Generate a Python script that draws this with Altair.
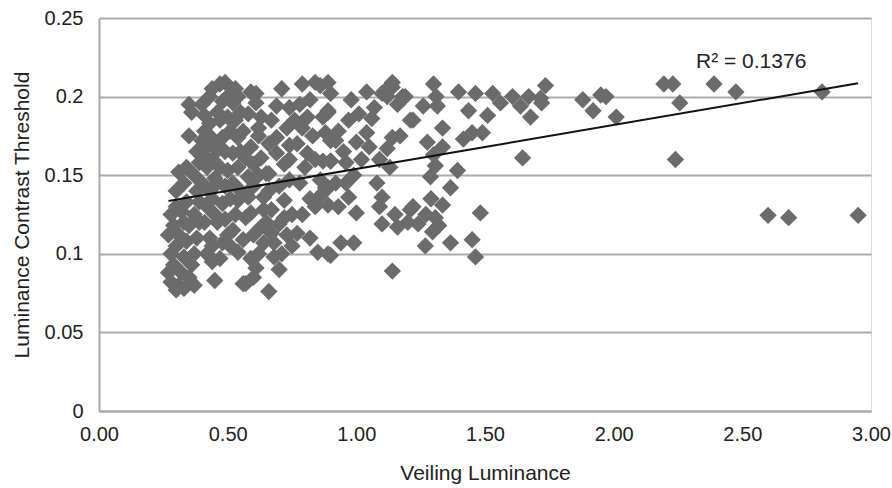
import altair as alt
import pandas as pd

veiling = [
    0.27,0.28,0.30,0.31,0.29,0.32,0.28,0.30,0.33,0.27,0.29,0.31,0.33,0.28,0.30,0.32,0.34,0.30,0.33,0.31,0.34,0.35,0.36,0.35,0.34,0.35,0.36,0.35,0.37,0.33,
    0.37,0.38,0.39,0.37,0.39,0.38,0.40,0.37,0.39,0.41,0.38,0.40,0.42,0.41,0.43,0.41,0.40,0.43,0.44,0.42,0.43,0.42,0.41,0.43,0.42,0.44,0.45,0.44,0.45,0.45,0.44,0.45,0.46,0.44,0.43,
    0.47,0.49,0.48,0.50,0.52,0.54,0.47,0.50,0.53,0.48,0.51,0.54,0.46,0.49,0.52,0.47,0.50,0.54,0.46,0.49,0.52,0.48,0.51,0.54,0.46,0.49,0.52,0.48,0.51,0.54,0.47,0.50,0.53,0.55,0.55,0.55,0.53,
    0.57,0.58,0.59,0.61,0.62,0.63,0.63,0.58,0.62,0.65,0.58,0.64,0.59,0.63,0.56,0.60,0.61,0.57,0.60,0.56,0.64,0.60,0.59,0.56,0.61,0.64,0.62,0.59,0.65,0.62,0.60,0.57,
    0.66,0.69,0.74,0.69,0.74,0.69,0.66,0.74,0.72,0.67,0.70,0.68,0.70,0.71,0.73,0.72,0.67,0.71,0.73,0.66,0.75,0.68,0.70,0.66,0.72,0.74,0.67,0.75,
    0.79,0.84,0.89,0.86,0.81,0.87,0.79,0.88,0.81,0.87,0.86,0.86,0.82,0.85,0.89,0.78,0.77,0.80,0.83,0.84,0.78,0.82,0.79,0.84,0.77,0.88,0.89,0.90,0.76,0.82,0.90,0.89,
    0.90,0.89,0.98,0.97,1.01,0.92,1.00,0.95,1.05,0.90,0.96,0.89,0.96,0.97,1.00,0.94,0.99,0.90,1.04,1.04,0.93,0.99,0.93,1.02,0.92,
    1.06,1.10,1.14,1.18,1.14,1.21,1.14,1.12,1.10,1.09,1.10,1.16,1.21,1.14,1.22,1.24,1.22,1.07,1.12,1.16,1.19,1.09,1.13,1.08,1.17,1.20,1.15,1.12,
    1.30,1.397,1.463,1.53,1.26,1.315,1.436,1.51,1.335,1.45,1.49,1.416,1.276,1.335,1.30,1.307,1.393,1.288,1.366,1.335,1.307,1.296,1.482,1.268,1.366,1.45,1.463,1.31,1.27,1.32,1.29,
    1.56,1.607,1.638,1.677,1.67,1.716,1.735,1.72,1.646,1.88,1.92,1.97,2.01,1.95,2.195,2.23,2.257,2.39,2.475,2.81,2.24,2.60,2.68,2.95,
]
threshold = [
    0.088,0.082,0.077,0.080,0.093,0.088,0.100,0.105,0.098,0.112,0.118,0.112,0.120,0.125,0.130,0.127,0.133,0.140,0.145,0.152,0.155,0.195,0.190,0.175,0.108,0.118,0.093,0.085,0.080,0.078,
    0.100,0.110,0.120,0.125,0.133,0.140,0.145,0.150,0.158,0.162,0.165,0.172,0.168,0.178,0.183,0.188,0.195,0.200,0.205,0.155,0.140,0.130,0.120,0.110,0.100,0.095,0.083,0.105,0.125,0.148,0.160,0.170,0.190,0.135,0.175,
    0.208,0.209,0.197,0.200,0.196,0.200,0.185,0.187,0.185,0.174,0.178,0.174,0.166,0.165,0.164,0.155,0.153,0.155,0.145,0.143,0.145,0.132,0.135,0.134,0.120,0.122,0.115,0.107,0.105,0.101,0.097,0.112,0.125,0.140,0.165,0.190,0.205,
    0.161,0.189,0.203,0.202,0.175,0.187,0.161,0.149,0.150,0.151,0.136,0.136,0.126,0.117,0.109,0.112,0.091,0.081,0.085,0.081,0.128,0.143,0.168,0.178,0.196,0.107,0.100,0.097,0.120,0.180,0.157,0.123,
    0.076,0.194,0.193,0.174,0.169,0.164,0.151,0.147,0.134,0.128,0.119,0.107,0.090,0.100,0.112,0.157,0.185,0.205,0.180,0.140,0.125,0.098,0.143,0.170,0.123,0.160,0.113,0.105,
    0.208,0.209,0.209,0.207,0.187,0.187,0.180,0.177,0.164,0.159,0.147,0.137,0.110,0.101,0.100,0.195,0.170,0.155,0.175,0.160,0.145,0.135,0.125,0.130,0.113,0.142,0.190,0.172,0.185,0.198,0.159,0.131,
    0.202,0.191,0.198,0.185,0.189,0.172,0.171,0.165,0.168,0.159,0.158,0.142,0.145,0.136,0.126,0.107,0.107,0.099,0.177,0.203,0.178,0.150,0.130,0.160,0.145,
    0.186,0.202,0.209,0.200,0.206,0.185,0.174,0.167,0.136,0.130,0.119,0.117,0.128,0.089,0.130,0.119,0.185,0.193,0.205,0.195,0.200,0.160,0.155,0.145,0.175,0.120,0.125,0.200,
    0.208,0.203,0.202,0.202,0.194,0.194,0.191,0.188,0.180,0.177,0.177,0.173,0.171,0.168,0.163,0.156,0.153,0.149,0.142,0.131,0.123,0.114,0.126,0.105,0.107,0.109,0.098,0.200,0.125,0.118,0.135,
    0.196,0.200,0.194,0.187,0.200,0.199,0.207,0.196,0.161,0.198,0.191,0.200,0.187,0.201,0.208,0.208,0.196,0.208,0.203,0.203,0.160,0.1245,0.123,0.1245,
]

trend_x = [0.27, 2.95]
trend_y = [0.1336, 0.2085]

label_x = [2.32]
label_y = [0.2217]
label_text = ["R\u00b2 = 0.1376"]

y_ticks = [0, 0.05, 0.1, 0.15, 0.2, 0.25]
x_ticks = [0, 0.5, 1.0, 1.5, 2.0, 2.5, 3.0]

pts = pd.DataFrame({"x": veiling, "y": threshold})
trend = pd.DataFrame({"x": trend_x, "y": trend_y})
lab = pd.DataFrame({"x": label_x, "y": label_y, "t": label_text})

FONT = "Liberation Sans"

xscale = alt.Scale(domain=[0, 3], nice=False, zero=True)
yscale = alt.Scale(domain=[0, 0.25], nice=False)

points = alt.Chart(pts).mark_point(
    shape="diamond", filled=True, size=300, color="#6b6b6b", opacity=1
).encode(
    x=alt.X("x:Q", scale=xscale, title="Veiling Luminance",
            axis=alt.Axis(values=x_ticks, format=".2f", grid=False, ticks=False,
                          labelFlush=False,
                          domainColor="#a8a8a8", domainWidth=2,
                          labelFont=FONT, labelFontSize=20, labelColor="#222",
                          labelPadding=13, titleFont=FONT, titleFontSize=21,
                          titleFontWeight="normal", titleColor="#222", titlePadding=18)),
    y=alt.Y("y:Q", scale=yscale, title="Luminance Contrast Threshold",
            axis=alt.Axis(values=y_ticks, labelExpr="format(datum.value, '~g')",
                          grid=True, gridColor="#ababab", gridWidth=2, ticks=False,
                          domainColor="#a8a8a8", domainWidth=2,
                          labelFont=FONT, labelFontSize=20, labelColor="#222",
                          labelPadding=16, titleFont=FONT, titleFontSize=21,
                          titleFontWeight="normal", titleColor="#222", titlePadding=12)),
)

line = alt.Chart(trend).mark_line(color="#111", strokeWidth=2).encode(
    x=alt.X("x:Q", scale=xscale), y=alt.Y("y:Q", scale=yscale)
)

text = alt.Chart(lab).mark_text(
    align="left", baseline="middle", font=FONT, fontSize=21, color="#222"
).encode(x=alt.X("x:Q", scale=xscale), y=alt.Y("y:Q", scale=yscale), text="t:N")

chart = alt.layer(points, line, text).properties(
    width=772, height=393,
    autosize="none",
    padding={"left": 99, "top": 18, "right": 21, "bottom": 77},
).configure_view(stroke=None).configure(background="white")

chart.save("out.html", embed_options={"renderer": "svg", "actions": False})
